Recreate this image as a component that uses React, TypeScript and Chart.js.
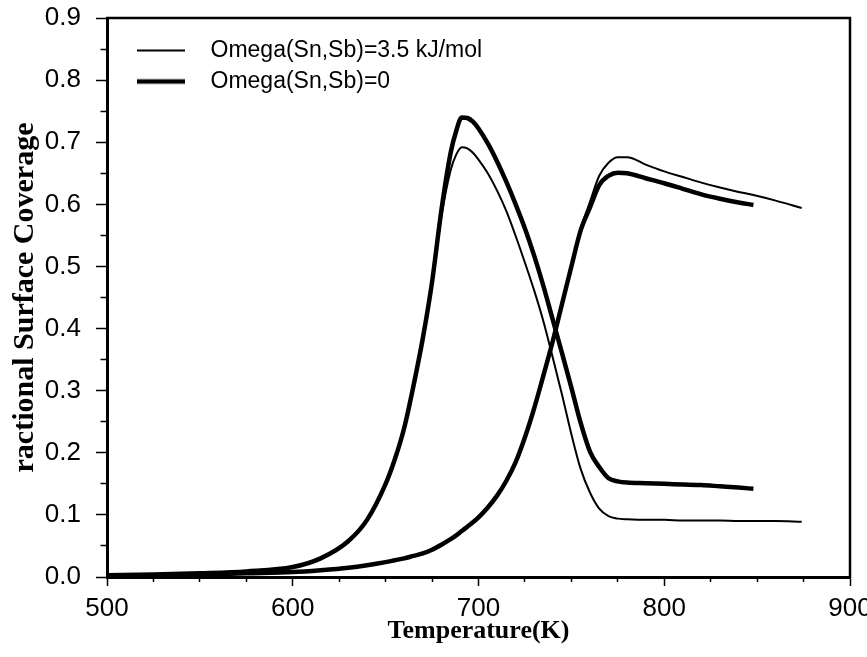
import React, { useEffect, useRef } from 'react';
import { Chart, registerables } from 'chart.js';

Chart.register(...registerables);

const temperatures = [500, 525, 550, 575, 600, 615, 630, 640, 650, 655, 660, 665, 670, 675, 680, 685, 688, 691, 694, 697, 700, 705, 710, 715, 720, 725, 730, 735, 740, 745, 750, 755, 760, 765, 770, 775, 780, 790, 800, 810, 820, 830, 840, 848, 860, 874];

// Omega(Sn,Sb)=3.5 kJ/mol — peaked curve
const peak35 = [0.003, 0.004, 0.006, 0.009, 0.016, 0.030, 0.058, 0.092, 0.150, 0.190, 0.240, 0.308, 0.384, 0.472, 0.580, 0.655, 0.680, 0.692, 0.690, 0.683, 0.672, 0.650, 0.622, 0.589, 0.549, 0.506, 0.461, 0.411, 0.353, 0.293, 0.230, 0.174, 0.136, 0.110, 0.098, 0.094, 0.093, 0.092, 0.092, 0.091, 0.091, 0.091, 0.090, 0.090, 0.090, 0.089];
// Omega(Sn,Sb)=0 — peaked curve
const peak0 = [0.003, 0.004, 0.006, 0.009, 0.016, 0.030, 0.058, 0.092, 0.150, 0.190, 0.240, 0.308, 0.384, 0.475, 0.590, 0.683, 0.718, 0.740, 0.739, 0.733, 0.722, 0.698, 0.669, 0.636, 0.600, 0.561, 0.517, 0.468, 0.414, 0.360, 0.305, 0.248, 0.202, 0.177, 0.159, 0.154, 0.152, 0.151, 0.150, 0.149, 0.148, 0.146, 0.144, 0.142, null, null];
// Omega(Sn,Sb)=3.5 kJ/mol — rising curve
const rise35 = [0.002, 0.003, 0.004, 0.006, 0.008, 0.011, 0.015, 0.019, 0.024, 0.027, 0.030, 0.034, 0.038, 0.044, 0.052, 0.061, 0.067, 0.074, 0.081, 0.088, 0.096, 0.112, 0.131, 0.155, 0.185, 0.225, 0.272, 0.325, 0.380, 0.440, 0.500, 0.560, 0.604, 0.646, 0.667, 0.676, 0.676, 0.664, 0.653, 0.644, 0.635, 0.627, 0.620, 0.615, 0.606, 0.594];
// Omega(Sn,Sb)=0 — rising curve
const rise0 = [0.002, 0.003, 0.004, 0.006, 0.008, 0.011, 0.015, 0.019, 0.024, 0.027, 0.030, 0.034, 0.038, 0.044, 0.052, 0.061, 0.067, 0.074, 0.081, 0.088, 0.096, 0.112, 0.131, 0.155, 0.185, 0.225, 0.272, 0.325, 0.380, 0.440, 0.500, 0.558, 0.595, 0.631, 0.646, 0.651, 0.650, 0.642, 0.634, 0.625, 0.616, 0.609, 0.603, 0.599, null, null];

const seriesNames = ['Omega(Sn,Sb)=3.5 kJ/mol', 'Omega(Sn,Sb)=0'];
const xTitle = 'Temperature(K)';
const yTitle = 'ractional Surface Coverage';

const THIN = 2;
const THICK = 4.5;

export default function App() {
  const ref = useRef<HTMLCanvasElement>(null);

  useEffect(() => {
    const canvas = ref.current;
    if (!canvas) return;

    const makeSwatch = (w: number) => {
      const c = document.createElement('canvas');
      c.width = 84;
      c.height = 12;
      const g = c.getContext('2d')!;
      g.strokeStyle = '#000';
      g.lineWidth = w;
      g.beginPath();
      g.moveTo(22, 6);
      g.lineTo(70, 6);
      g.stroke();
      return c;
    };
    const swatches = [makeSwatch(THIN), makeSwatch(THICK)];

    const toPts = (vals: (number | null)[]) => temperatures.map((t, i) => ({ x: t, y: vals[i] }));

    const lineDs = (label: string, vals: (number | null)[], w: number) => ({
      label,
      data: toPts(vals),
      borderColor: '#000',
      backgroundColor: '#000',
      borderWidth: w,
      pointRadius: 0,
      fill: false,
      cubicInterpolationMode: 'monotone' as const,
    });

    const frame = {
      id: 'frame',
      afterDraw(chart: any) {
        const { ctx, chartArea: a } = chart;
        ctx.save();
        ctx.strokeStyle = '#000';
        ctx.lineWidth = 2.5;
        ctx.beginPath();
        ctx.moveTo(a.left - 1, a.top);
        ctx.lineTo(a.right, a.top);
        ctx.lineTo(a.right, a.bottom + 1);
        ctx.stroke();
        ctx.restore();
      },
    };

    Chart.defaults.font.family = "'Liberation Sans', Arial, sans-serif";
    Chart.defaults.color = '#000';

    const chart = new Chart(canvas, {
      type: 'line',
      data: {
        datasets: [
          lineDs(seriesNames[0], peak35, THIN),
          lineDs(seriesNames[1], peak0, THICK),
          lineDs(seriesNames[0], rise35, THIN),
          lineDs(seriesNames[1], rise0, THICK),
        ],
      },
      options: {
        responsive: false,
        animation: false,
        layout: { padding: { left: 0, top: 18, right: 17, bottom: 0 } },
        plugins: {
          tooltip: { enabled: false },
          legend: {
            position: 'chartArea',
            align: 'start',
            title: { display: true, text: '', font: { size: 5 }, padding: { top: 25, bottom: 0 } },
            labels: {
              usePointStyle: true,
              pointStyleWidth: 84,
              padding: 8,
              color: '#000',
              font: { family: "'Liberation Sans', Arial, sans-serif", size: 23 },
              generateLabels: () =>
                seriesNames.map((name, i) => ({
                  text: name,
                  pointStyle: swatches[i],
                  lineWidth: i === 0 ? THIN : THICK,
                  strokeStyle: '#000',
                  fillStyle: '#000',
                  fontColor: '#000',
                  hidden: false,
                  datasetIndex: i,
                })),
            },
          },
        },
        scales: {
          x: {
            type: 'linear',
            min: 500,
            max: 900,
            afterFit: (s: any) => {
              s.height = 80;
              s.paddingLeft = 0;
              s.paddingRight = 0;
            },
            border: { display: true, color: '#000', width: 3 },
            grid: {
              drawOnChartArea: false,
              drawTicks: true,
              tickLength: 9,
              tickColor: '#000',
              tickWidth: 1.5,
              tickBorderDash: (ctx: any) => (ctx.tick && ctx.tick.value % 100 !== 0 ? [3, 100] : []),
            },
            ticks: {
              stepSize: 25,
              autoSkip: false,
              maxRotation: 0,
              padding: 7,
              color: '#000',
              font: { family: "'Liberation Sans', Arial, sans-serif", size: 26 },
              callback: (v: any) => (Number(v) % 100 === 0 ? String(v) : ''),
            },
            title: {
              display: true,
              text: xTitle,
              color: '#000',
              font: { family: "'Liberation Serif', 'Times New Roman', serif", size: 26, weight: 'bold' },
              padding: { top: 0, bottom: 10 },
            },
          },
          y: {
            type: 'linear',
            min: 0,
            max: 0.9,
            afterFit: (s: any) => {
              s.width = 107;
              s.paddingTop = 0;
              s.paddingBottom = 0;
            },
            border: { display: true, color: '#000', width: 3 },
            grid: {
              drawOnChartArea: false,
              drawTicks: true,
              tickLength: 11,
              tickColor: '#000',
              tickWidth: 1.5,
              tickBorderDash: (ctx: any) =>
                ctx.tick && Math.round(ctx.tick.value * 100) % 10 !== 0 ? [0, 4.5, 100] : [],
            },
            ticks: {
              stepSize: 0.05,
              autoSkip: false,
              padding: 15,
              color: '#000',
              font: { family: "'Liberation Sans', Arial, sans-serif", size: 26 },
              callback: (v: any) => (Math.round(Number(v) * 100) % 10 === 0 ? Number(v).toFixed(1) : ''),
            },
            title: {
              display: true,
              text: yTitle,
              color: '#000',
              font: { family: "'Liberation Serif', 'Times New Roman', serif", size: 30, weight: 'bold' },
              padding: { top: 7, bottom: 0 },
            },
          },
        },
      } as any,
      plugins: [frame],
    });

    return () => chart.destroy();
  }, []);

  return (
    <div style={{ position: 'absolute', left: 0, top: 0, width: 867, height: 657, background: '#fff' }}>
      <canvas ref={ref} width={867} height={657} style={{ display: 'block' }} />
    </div>
  );
}
